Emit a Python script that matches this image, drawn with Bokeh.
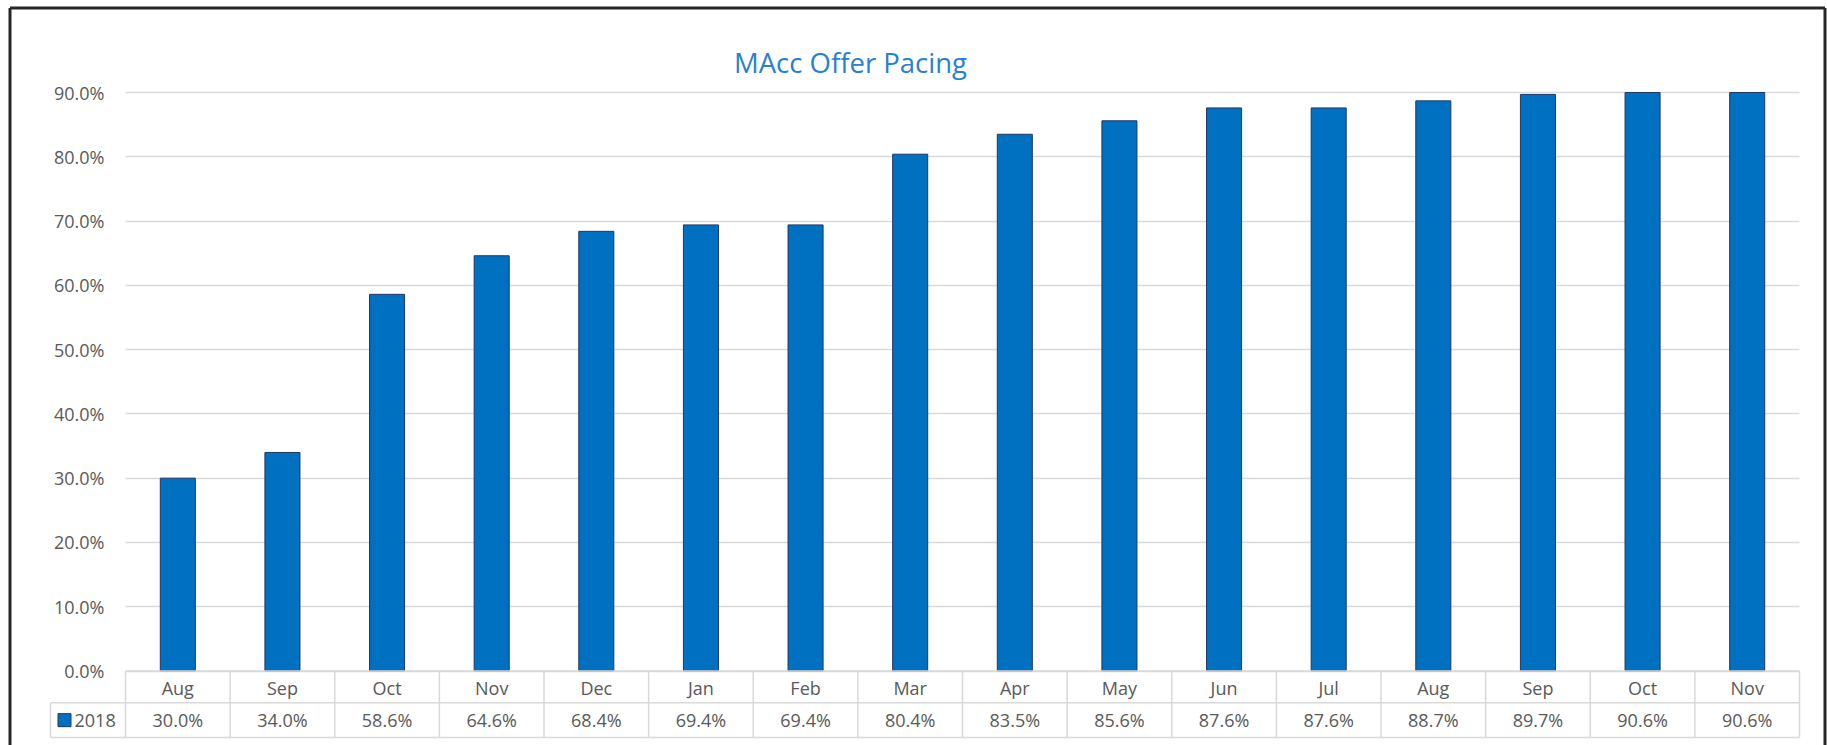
import numpy as np
from bokeh.plotting import figure
from bokeh.models import FixedTicker, NumeralTickFormatter, Label
from bokeh.core.properties import value
from bokeh.embed import file_html
from bokeh.resources import INLINE

# ---------------- data ----------------
months = ["Aug", "Sep", "Oct", "Nov", "Dec", "Jan", "Feb", "Mar",
          "Apr", "May", "Jun", "Jul", "Aug", "Sep", "Oct", "Nov"]
pct_2018 = [30.0, 34.0, 58.6, 64.6, 68.4, 69.4, 69.4, 80.4,
            83.5, 85.6, 87.6, 87.6, 88.7, 89.7, 90.6, 90.6]
y_ticks = [0.0, 0.1, 0.2, 0.3, 0.4, 0.5, 0.6, 0.7, 0.8, 0.9]
series_name = "2018"
title_text = "MAcc Offer Pacing"

# ---------------- layout (screenshot pixels) ----------------
W, H = 1827, 745
OX, OY = 0, 0
col_left, col_right = 125, 1799
n = len(months)
cw = (col_right - col_left) / n
y0_px, ytop_px = 670.5, 92.0
y_max = y_ticks[-1]
ppu = (y0_px - ytop_px) / y_max

def xd(px):
    return (px - OX - col_left + OX) / cw - 0.5

def yd(py):
    return (y0_px - py) / ppu

x_start, x_end = xd(OX), xd(OX + W)
y_start, y_end = yd(OY + H), yd(OY)

FONT = "Open Sans"
TXT = "#595959"
GRID = "#D9D9D9"
FS = "18px"

p = figure(width=W, height=H, x_range=(x_start, x_end), y_range=(y_start, y_end),
           output_backend="svg", toolbar_location=None, title=None,
           min_border=0, background_fill_color="white", border_fill_color="white")
p.outline_line_color = None

idx = np.arange(n)
vals = np.array(pct_2018) / 100.0

# grid (only across the plot columns)
p.xgrid.visible = False
p.ygrid.ticker = FixedTicker(ticks=y_ticks)
p.ygrid.grid_line_color = GRID
p.ygrid.grid_line_width = 1.5
p.ygrid.cross_bounds = (-0.5, n - 0.5)

# bars (clipped at the axis maximum like the original)
p.vbar(x=idx, top=np.minimum(vals, y_max), bottom=0, width=0.335,
       fill_color="#0070C0", line_color="#203864", line_width=1)

# y axis
ya = p.yaxis[0]
ya.fixed_location = xd(110)
ya.ticker = FixedTicker(ticks=y_ticks)
ya.formatter = NumeralTickFormatter(format="0.0%")
ya.axis_line_color = None
ya.major_tick_line_color = None
ya.minor_tick_line_color = None
ya.major_tick_out = 0
ya.major_label_standoff = 6
ya.major_label_text_font = FONT
ya.major_label_text_font_size = FS
ya.major_label_text_color = TXT

# x axis (category row of the data table)
xa = p.xaxis[0]
xa.fixed_location = 0
xa.ticker = FixedTicker(ticks=list(range(n)))
xa.major_label_overrides = {i: m for i, m in enumerate(months)}
xa.axis_line_color = None
xa.major_tick_line_color = None
xa.minor_tick_line_color = None
xa.major_tick_out = 0
xa.major_label_standoff = 5
xa.major_label_text_font = FONT
xa.major_label_text_font_size = FS
xa.major_label_text_color = TXT

# data table lines
row1 = yd(702.3)
row2 = yd(737.0)
leg_left = xd(50)
p.segment(x0=[-0.5, leg_left, leg_left], y0=[0, row1, row2],
          x1=[n - 0.5] * 3, y1=[0, row1, row2],
          line_color=GRID, line_width=1.5)
vx = np.arange(n + 1) - 0.5
p.segment(x0=vx, y0=[row2] * (n + 1), x1=vx, y1=[0] * (n + 1),
          line_color=GRID, line_width=1.5)
p.segment(x0=[leg_left], y0=[row2], x1=[leg_left], y1=[row1],
          line_color=GRID, line_width=1.5)

# values row
ymid = (row1 + row2) / 2
p.text(x=idx, y=[ymid] * n, text=[f"{v:.1f}%" for v in pct_2018],
       text_align="center", text_baseline="middle",
       text_font=value(FONT), text_font_size=FS, text_color=TXT)

# legend key in the table
p.rect(x=[xd(64)], y=[ymid], width=13, height=13, width_units="screen",
       height_units="screen", fill_color="#0070C0", line_color="#203864", line_width=1)
p.text(x=[xd(74)], y=[ymid], text=[series_name], text_align="left",
       text_baseline="middle", text_font=value(FONT), text_font_size="18px",
       text_color=TXT)

# title
p.add_layout(Label(x=xd(850), y=yd(62), text=title_text, text_align="center",
                   text_baseline="middle", text_font=FONT,
                   text_font_size="27.5px", text_color="#2A80D0"))

# outer chart border (left, top, right)
bl, bt, br = xd(9.5), yd(7.5), xd(1824.5)
p.segment(x0=[bl, bl, br], y0=[y_start, bt, bt],
          x1=[bl, br, br], y1=[bt, bt, y_start],
          line_color="#262626", line_width=3)

open("out.html", "w").write(file_html(p, INLINE))
